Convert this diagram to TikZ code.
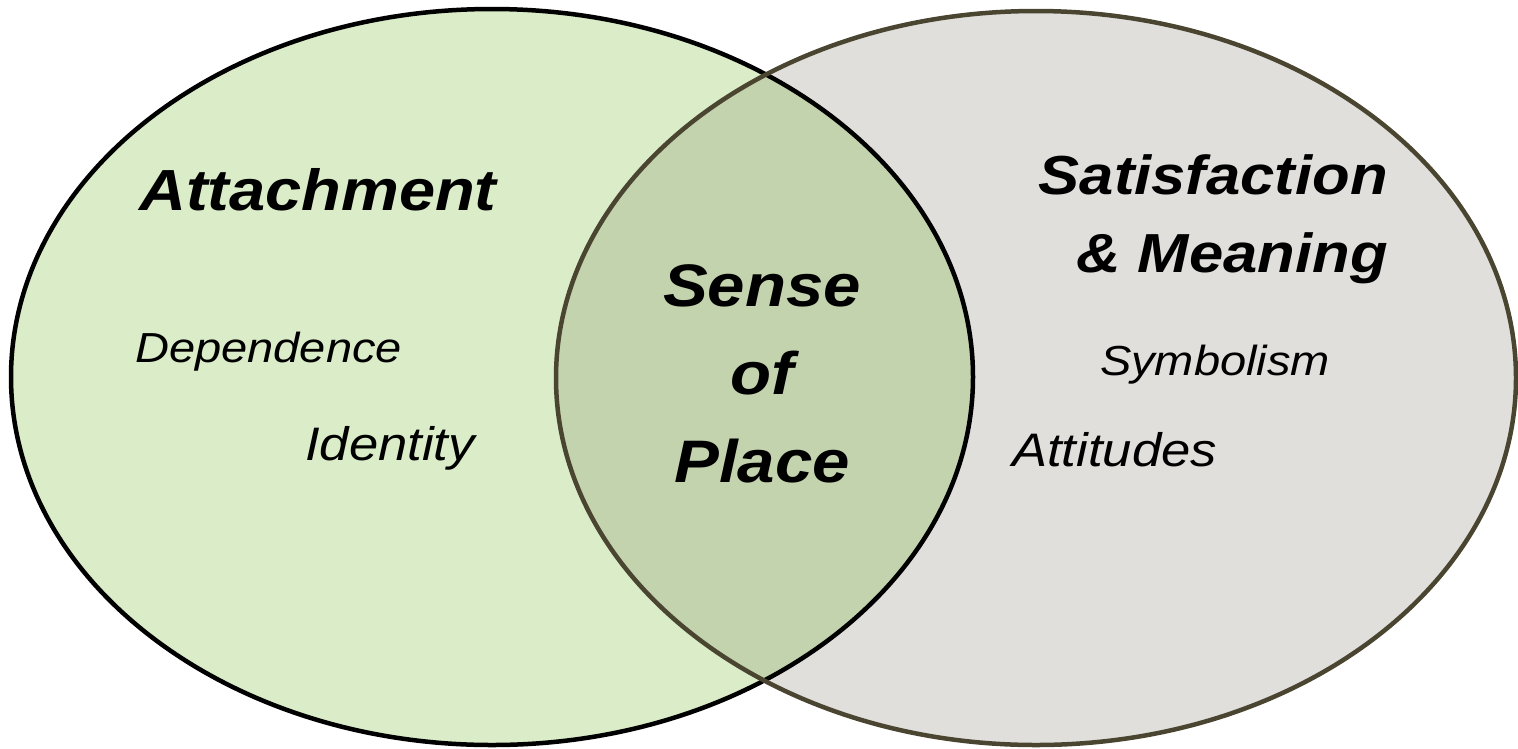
\documentclass[tikz,border=0pt]{standalone}
\usepackage{fontspec}
\setmainfont{Liberation Sans}[FakeStretch=1.12]
\definecolor{lgreen}{HTML}{DAEDC8}
\definecolor{lgray}{HTML}{E0DFDC}
\definecolor{mid}{HTML}{C3D3AD}
\definecolor{olive}{HTML}{4A4530}
\tikzset{
  big/.style={font=\fontsize{58}{66}\selectfont\bfseries\itshape, inner sep=0pt},
  center/.style={font=\fontsize{60}{88}\selectfont\bfseries\itshape, align=center, inner sep=0pt},
  small/.style={font=\fontsize{42}{48}\selectfont\itshape, inner sep=0pt},
  smallw/.style={font=\fontsize{47}{52}\selectfont\itshape, inner sep=0pt, anchor=west},
}
\begin{document}
\begin{tikzpicture}[x=1pt,y=-1pt]
\useasboundingbox (0,0) rectangle (1518,748);
\fill[lgreen] (492,377) ellipse [x radius=481, y radius=368];
\fill[lgray] (1036,378) ellipse [x radius=480, y radius=367];
\begin{scope}
  \clip (492,377) ellipse [x radius=481, y radius=368];
  \fill[mid] (1036,378) ellipse [x radius=480, y radius=367];
\end{scope}
\draw[line width=4.5pt, black] (492,377) ellipse [x radius=481, y radius=368];
\draw[line width=4.5pt, olive] (1036,378) ellipse [x radius=480, y radius=367];

\node[big] (att) at (318,190) {Attachment};
\node[small, anchor=west] (dep) at (135,352) {Dependence};
\node[smallw] (ide) at (305,448) {Identity};
\node[center] (sop) at (762,374) {Sense\\of\\Place};
\node[big, align=right, anchor=east, font=\fontsize{55}{78}\selectfont\bfseries\itshape] (sat) at (1388,219) {Satisfaction\\\& Meaning};
\node[small] (sym) at (1215,365) {Symbolism};
\node[smallw] (atti) at (1012,450) {Attitudes};
\end{tikzpicture}
\end{document}
